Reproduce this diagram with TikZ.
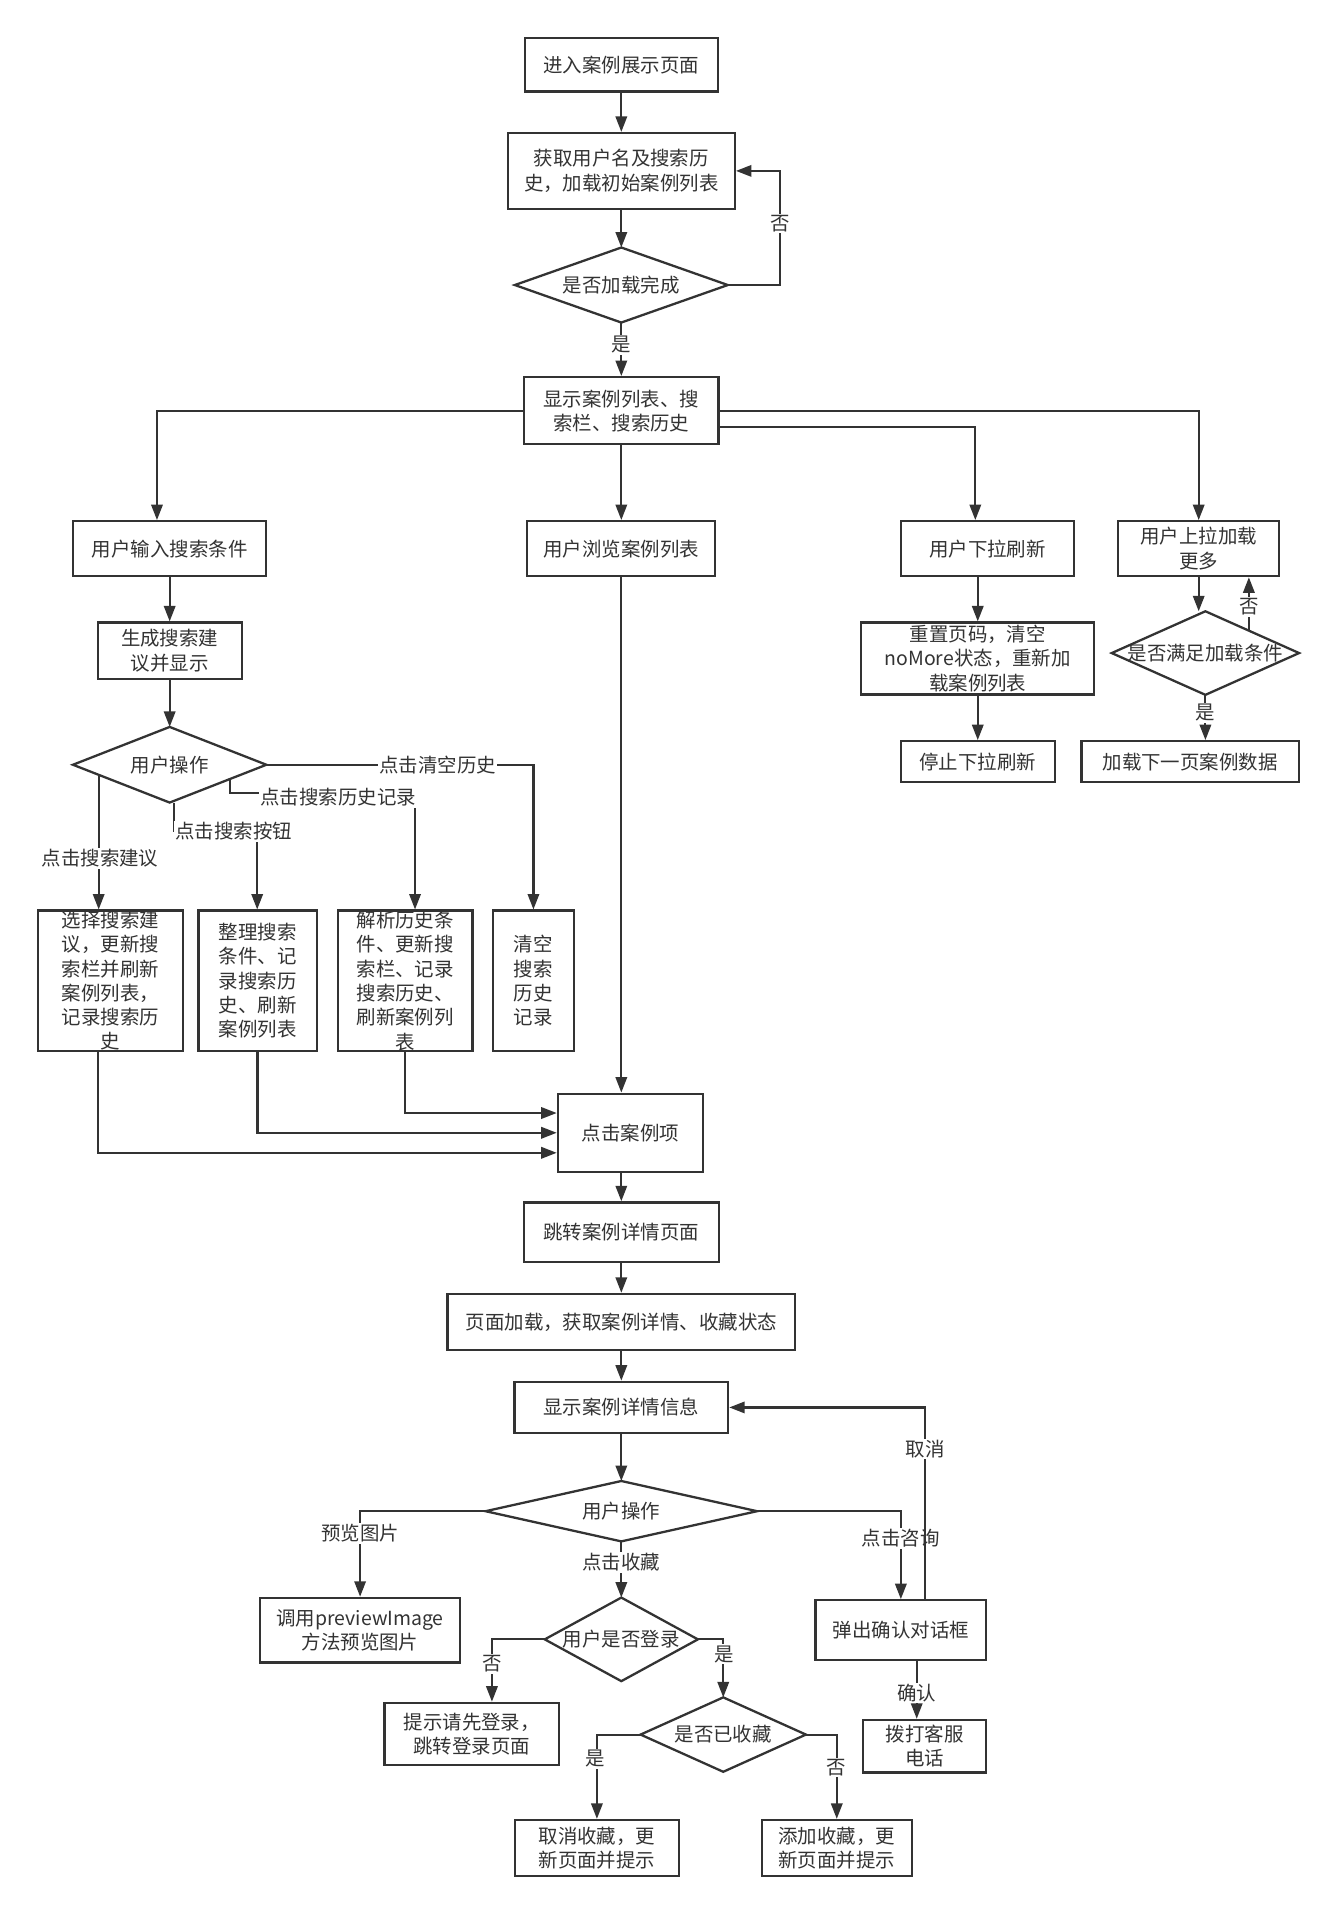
\documentclass[tikz,border=0pt]{standalone}
\usepackage{fontspec}
\setmainfont{Noto Sans CJK SC}
\usetikzlibrary{arrows.meta,calc}
\definecolor{ink}{HTML}{333333}
\tikzset{
  bx/.style 2 args={draw=ink, line width=1.6pt, rectangle, minimum width=#1*0.03cm, minimum height=#2*0.03cm, inner sep=0pt, align=center, text=ink},
  dia/.style 2 args={rectangle, minimum width=#1*0.03cm, minimum height=#2*0.03cm, inner sep=0pt, align=center, text=ink},
  conn/.style={draw=ink, line width=1.5pt, -{Triangle[length=0.38cm,width=0.28cm]}},
  plain/.style={draw=ink, line width=1.6pt, line join=miter},
  lab/.style={fill=white, inner sep=1pt, text=ink},
}
\begin{document}
\begin{tikzpicture}[x=0.03cm, y=-0.03cm, font=\fontsize{13.6}{17}\selectfont]
\fill[white] (0,0) rectangle (1094,1568);
\useasboundingbox (0,0) rectangle (1094,1568);

% nodes
\node[bx={158}{44}] (n1) at (509,53) {进入案例展示页面};
\node[bx={186}{62}] (n2) at (509,140) {获取用户名及搜索历\\史，加载初始案例列表};
\node[dia={174}{61}] (d1) at (509,233.5) {是否加载完成};
\node[bx={159}{55}] (n3) at (509,336.5) {显示案例列表、搜\\索栏、搜索历史};
\node[bx={158}{45}] (n4) at (139,449.5) {用户输入搜索条件};
\node[bx={154}{45}] (n5) at (509,449.5) {用户浏览案例列表};
\node[bx={142}{45}] (n6) at (809,449.5) {用户下拉刷新};
\node[bx={132}{45}] (n7) at (982,449.5) {用户上拉加载\\更多};
\node[bx={118}{46}] (n8) at (139,533) {生成搜索建\\议并显示};
\node[dia={158}{61.5}] (d2) at (139,626.5) {用户操作};
\node[bx={191}{59}] (n9) at (801,539.5) {重置页码，清空\\noMore状态，重新加\\载案例列表};
\node[bx={126}{33.5}] (n10) at (801,624) {停止下拉刷新};
\node[dia={153}{68}] (d3) at (987.5,535) {是否满足加载条件};
\node[bx={178}{33.5}] (n11) at (975,624) {加载下一页案例数据};
\node[bx={119}{115}] (n12) at (90.5,803.5) {选择搜索建\\议，更新搜\\索栏并刷新\\案例列表，\\记录搜索历\\史};
\node[bx={97}{115}] (n13) at (211,803.5) {整理搜索\\条件、记\\录搜索历\\史、刷新\\案例列表};
\node[bx={110}{115}] (n14) at (332,803.5) {解析历史条\\件、更新搜\\索栏、记录\\搜索历史、\\刷新案例列\\表};
\node[bx={66}{115}] (n15) at (437,803.5) {清空\\搜索\\历史\\记录};
\node[bx={119}{64}] (n16) at (516.5,928) {点击案例项};
\node[bx={160}{49}] (n17) at (509,1009.5) {跳转案例详情页面};
\node[bx={285}{46}] (n18) at (509,1083) {页面加载，获取案例详情、收藏状态};
\node[bx={175}{42}] (n19) at (509,1153) {显示案例详情信息};
\node[dia={222}{49}] (d4) at (509,1238) {用户操作};
\node[bx={164}{53}] (n20) at (295,1335.5) {调用previewImage\\方法预览图片};
\node[bx={140}{49}] (n21) at (738,1335.5) {弹出确认对话框};
\node[bx={101}{43}] (n22) at (757.5,1430.5) {拨打客服\\电话};
\node[dia={125}{68}] (d5) at (509,1343) {用户是否登录};
\node[bx={143}{51}] (n23) at (386.5,1420.5) {提示请先登录，\\跳转登录页面};
\node[dia={135}{60.5}] (d6) at (592.5,1421) {是否已收藏};
\node[bx={134}{46}] (n24) at (489,1514) {取消收藏，更\\新页面并提示};
\node[bx={123}{46}] (n25) at (685.5,1514) {添加收藏，更\\新页面并提示};

% diamonds
\foreach \d in {d1,d2,d3,d4,d5,d6}
  \draw[plain] (\d.north) -- (\d.east) -- (\d.south) -- (\d.west) -- cycle;

% helper coordinates
\coordinate (p1) at ($(d2.west)!0.266!(d2.south)$);
\coordinate (k0) at ($(d2.south)+(3.6,0)$);
\coordinate (k1) at ($(d2.south)+(3.6,23.5)$);
\coordinate (p2) at ($(d2.south)!0.62!(d2.east)$);
\coordinate (p3) at ($(d3.north)!0.464!(d3.east)$);

% connectors
\draw[conn] (n1.south) -- (n2.north);
\draw[conn] (n2.south) -- (d1.north);
\draw[conn] (d1.east) -- ++(43,0) |- (n2.east);
\draw[conn] (d1.south) -- (n3.north);
\draw[conn] (n3.west) -| ($(n4.north)+(-10.4,0)$);
\draw[conn] (n3.south) -- (n5.north);
\draw[conn] (n3.east) -| (n7.north);
\draw[conn] ($(n3.east)+(0,13.5)$) -| ($(n6.north)+(-10,0)$);
\draw[conn] (n4.south) -- (n8.north);
\draw[conn] (n8.south) -- (d2.north);
\draw[conn] (n6.south -| n9.north) -- (n9.north);
\draw[conn] (n9.south) -- (n10.north);
\draw[conn] (n7.south) -- (n7.south |- d3.north);
\draw[conn] (p3) -- (p3 |- n7.south);
\draw[conn] (d3.south) -- (d3.south |- n11.north);

\draw[conn] (p1) -- (p1 |- n12.north);
\draw[conn] (k0) -- (k1) -| ($(n13.north)+(-0.3,0)$);
\draw[conn] (p2) -- ++(0,11.7) -| ($(n14.north)+(8,0)$);
\draw[conn] (d2.east) -| (n15.north);

\draw[conn] ($(n12.south)+(-10.5,0)$) |- ($(n16.west)+(0,16.4)$);
\draw[conn] (n13.south) |- (n16.west);
\draw[conn] (n14.south) |- ($(n16.west)+(0,-16.2)$);
\draw[conn] (n5.south) -- (n5.south |- n16.north);
\draw[conn] (n16.south -| n17.north) -- (n17.north);
\draw[conn] (n17.south) -- (n18.north);
\draw[conn] (n18.south) -- (n19.north);
\draw[conn] (n19.south) -- (d4.north);
\draw[conn] (d4.west) -| (n20.north);
\draw[conn] (d4.east) -| (n21.north);
\node[lab] (l10) at (738,1260) {点击咨询};
\draw[conn] (d4.south) -- (d5.north);
\draw[conn] ($(n21.north)+(20,0)$) |- (n19.east);
\draw[conn] ($(n21.south)+(13,0)$) -- ($(n22.north)+(-6.5,0)$);
\draw[conn] (d5.west) -| ($(n23.north)+(16.5,0)$);
\draw[conn] (d5.east) -| (d6.north);
\draw[conn] (d6.west) -| (n24.north);
\draw[conn] (d6.east) -| (n25.north);

% labels
\node[lab] (l1) at (639,183) {否};
\node[lab] (l2) at (509,282.5) {是};
\node[lab] (l3) at (82,703) {点击搜索建议};
\node[lab] (l4) at (191.5,681) {点击搜索按钮};
\node[lab] (l5) at (277,653) {点击搜索历史记录};
\node[lab] (l6) at (358.5,626.5) {点击清空历史};
\node[lab] (l7) at (1023,497) {否};
\node[lab] (l8) at (987.5,584) {是};
\node[lab] (l9) at (295,1256) {预览图片};
\node[lab] (l11) at (509,1280) {点击收藏};
\node[lab] (l12) at (758,1187) {取消};
\node[lab] (l13) at (751,1387) {确认};
\node[lab] (l14) at (403,1363) {否};
\node[lab] (l15) at (593,1355) {是};
\node[lab] (l16) at (488,1441) {是};
\node[lab] (l17) at (685,1448) {否};
\end{tikzpicture}
\end{document}
